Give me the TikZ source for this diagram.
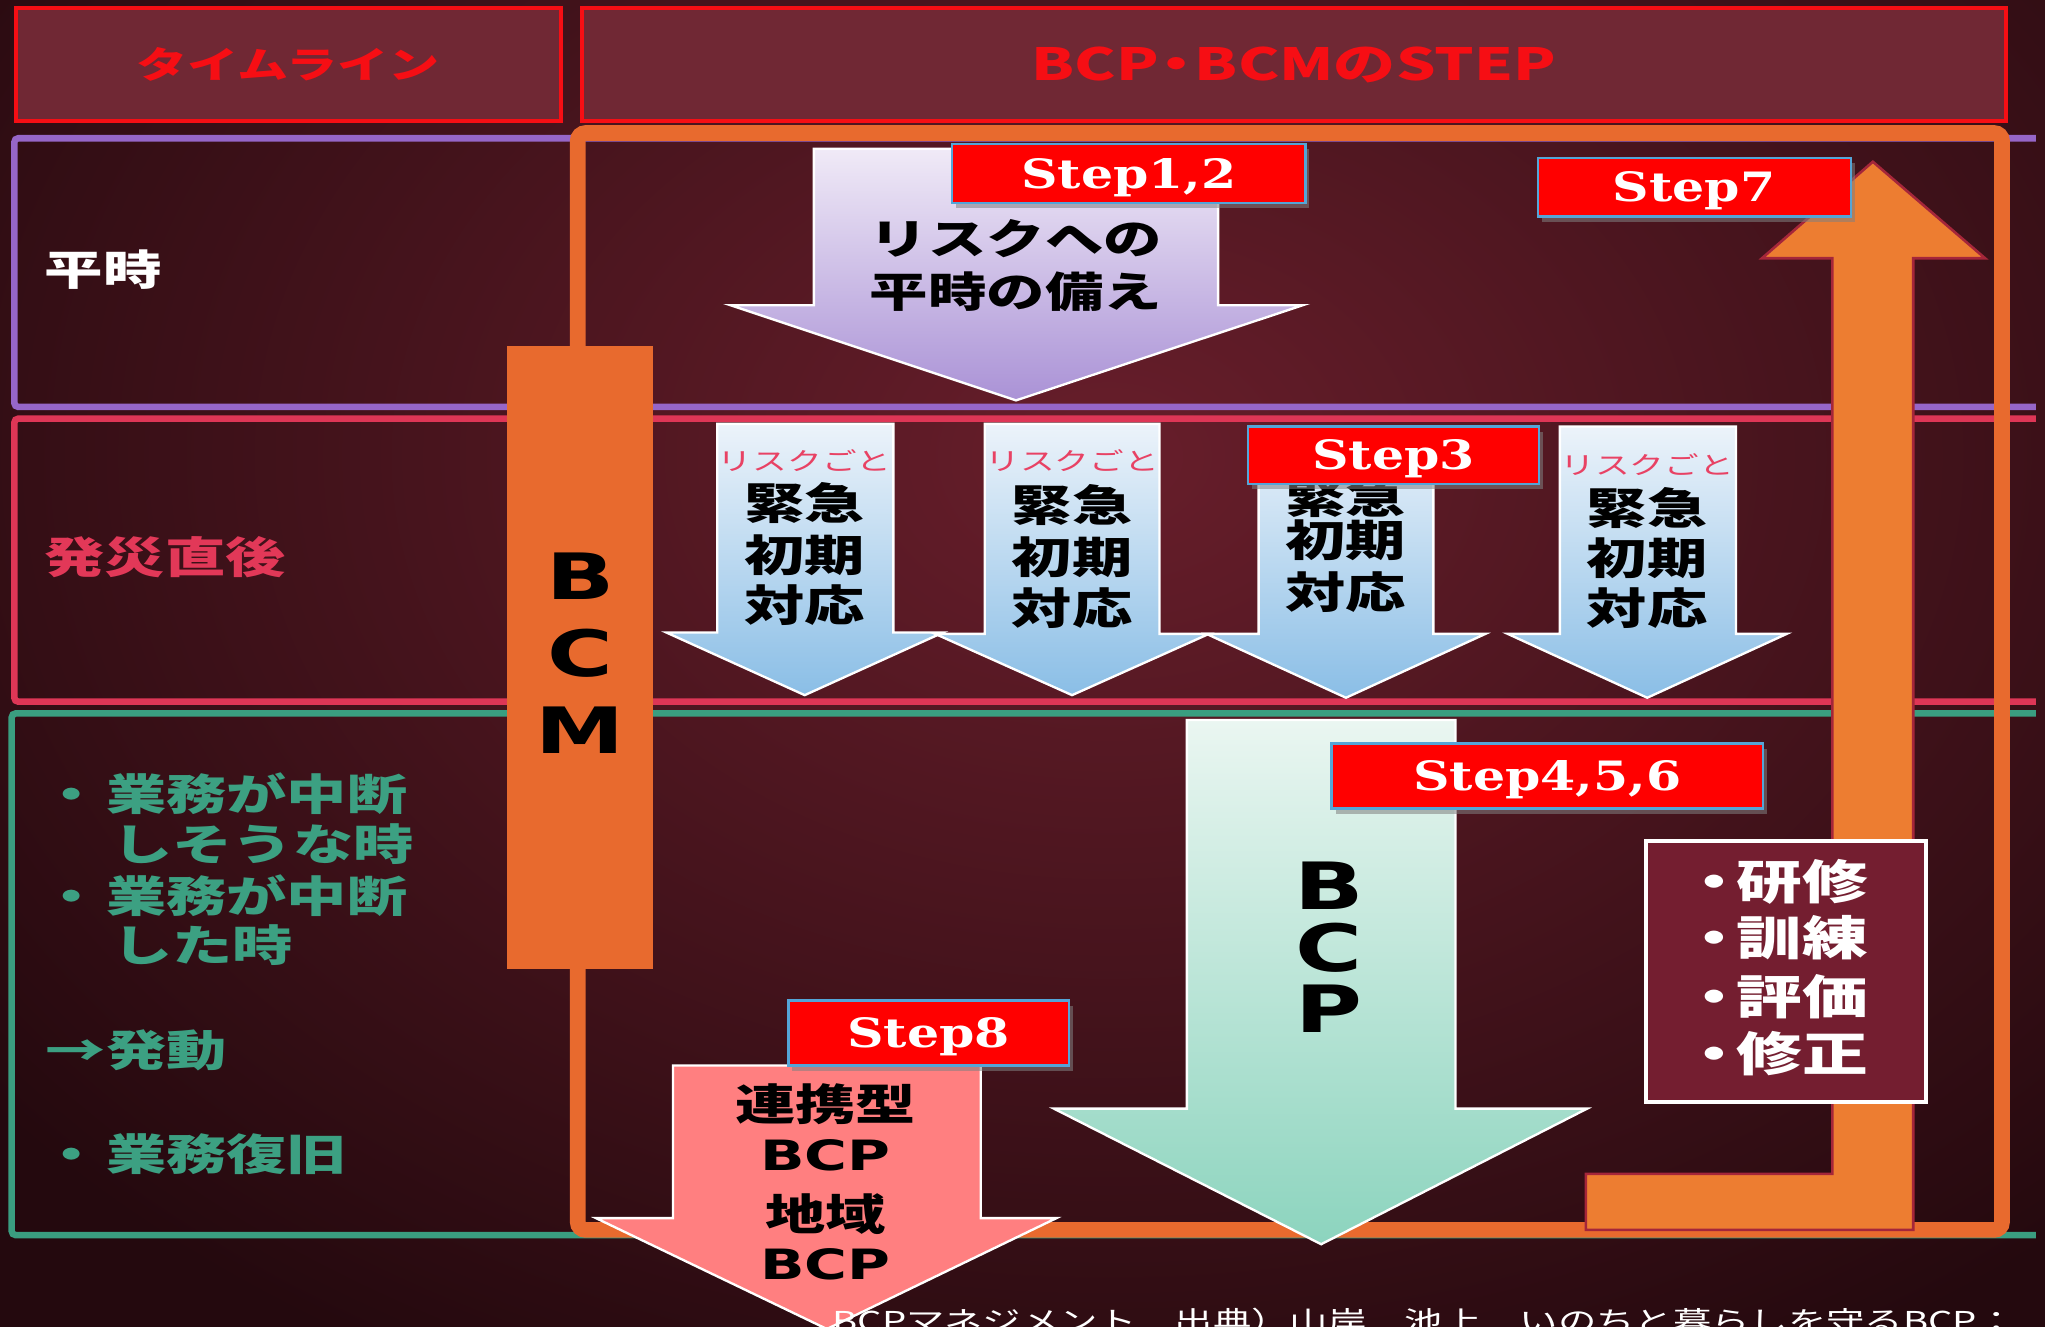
\documentclass[tikz,border=0pt]{standalone}
\usepackage{fontspec}
\usetikzlibrary{shadows}
\newfontfamily\jp[FakeStretch=1.4]{Noto Sans CJK JP}
\newfontfamily\latb[FakeStretch=1.4]{DejaVu Sans}
\newfontfamily\stepf[FakeStretch=1.25]{DejaVu Serif}
\newcommand\fsz[1]{\fontsize{#1}{#1}\selectfont}
\definecolor{bgin}{RGB}{104,30,43}
\definecolor{bgout}{RGB}{36,9,14}
\definecolor{hdrfill}{RGB}{112,40,52}
\definecolor{hdrred}{RGB}{246,14,20}
\definecolor{rowpurple}{RGB}{150,102,200}
\definecolor{rowred}{RGB}{222,54,86}
\definecolor{rowgreen}{RGB}{58,158,128}
\definecolor{frameorange}{RGB}{232,106,46}
\definecolor{lorange}{RGB}{237,125,49}
\definecolor{lborder}{RGB}{165,38,58}
\definecolor{steplbl}{RGB}{255,0,0}
\definecolor{stepedge}{RGB}{84,165,215}
\definecolor{lavtop}{RGB}{240,234,247}
\definecolor{lavbot}{RGB}{170,146,214}
\definecolor{bluetop}{RGB}{236,243,250}
\definecolor{bluebot}{RGB}{138,190,230}
\definecolor{minttop}{RGB}{234,246,241}
\definecolor{mintbot}{RGB}{140,212,190}
\definecolor{pinkfill}{RGB}{255,127,128}
\definecolor{trainfill}{RGB}{116,30,48}
\definecolor{riskpink}{RGB}{232,66,100}
\definecolor{labred}{RGB}{226,56,88}
\definecolor{labgreen}{RGB}{60,160,130}
\begin{document}
\begin{tikzpicture}[x=1pt,y=-1pt,
  txt/.style={inner sep=0pt, anchor=base},
  txtw/.style={inner sep=0pt, anchor=base west},
  hdrbox/.style={draw=hdrred, line width=3pt, fill=hdrfill, inner sep=0pt, text=hdrred},
  rowline/.style={line width=5pt, rounded corners=3pt},
  steplabel/.style={draw=stepedge, line width=1.8pt, fill=steplbl, text=white,
    font=\stepf\bfseries\fsz{31}, text height=22.6pt, text depth=0pt, inner sep=0pt,
    drop shadow={opacity=0.55, shadow xshift=3pt, shadow yshift=-4pt}},
  arrowshape/.style={draw=white, line width=1.8pt, line join=miter},
  jpbig/.style={font=\jp\bfseries\fsz{33}},
  riskfont/.style={font=\jp\fsz{19}, text=riskpink},
  greentxt/.style={txtw, font=\jp\bfseries\fsz{33}, text=labgreen},
  bigletter/.style={txt, font=\latb\bfseries\fsz{49}},
]
\useasboundingbox (0,0) rectangle (1568,1017);
\begin{scope}
\clip (0,0) rectangle (1568,1017);
% background
\shade[inner color=bgin, outer color=bgout] (-250,-450) rectangle (1950,1150);

% header boxes
\node[hdrbox, minimum width=418pt, minimum height=87pt, font=\jp\bfseries\fsz{28}] (hdrtl) at (221,49.5) {タイムライン};
\node[hdrbox, minimum width=1092pt, minimum height=87pt, font=\jp\bfseries\fsz{34}] (hdrstep) at (992,49.5) {BCP\kern-10pt・\kern-10pt BCMのSTEP};

% row frames
\draw[rowline, rowpurple] (1561,106) -- (11,106) -- (11,312) -- (1561,312);
\draw[rowline, rowred] (1561,321) -- (11,321) -- (11,538) -- (1561,538);
\draw[rowline, rowgreen] (1561,547) -- (9,547) -- (9,947) -- (1561,947);

% orange frame
\draw[frameorange, line width=12pt, rounded corners=6pt] (443,102) rectangle (1535,943);

% BCM bar
\node[fill=frameorange, minimum width=112pt, minimum height=478pt, inner sep=0pt] (bcmbar) at (445,504) {};
\node[bigletter] (bcmB) at (445,460) {B};
\node[bigletter] (bcmC) at (445,519) {C};
\node[bigletter] (bcmM) at (445,578) {M};

% Step7 L-shaped arrow
\draw[fill=lorange, draw=lborder, line width=2pt, line join=miter]
  (1216,900) -- (1405,900) -- (1405,198) -- (1351,198) -- (1436,124) -- (1522,198)
  -- (1467,198) -- (1467,943) -- (1216,943) -- cycle;

% training box
\node[draw=white, line width=3pt, fill=trainfill, minimum width=215pt, minimum height=200pt, inner sep=0pt] (train) at (1369.5,745) {};
\node[txtw, font=\jp\bfseries\fsz{36}, text=white] (tr1) at (1289,689.7) {・\kern-8pt 研修};
\node[txtw, font=\jp\bfseries\fsz{36}, text=white] (tr2) at (1289,732.7) {・\kern-8pt 訓練};
\node[txtw, font=\jp\bfseries\fsz{36}, text=white] (tr3) at (1289,777.7) {・\kern-8pt 評価};
\node[txtw, font=\jp\bfseries\fsz{36}, text=white] (tr4) at (1289,821.7) {・\kern-8pt 修正};

% lavender arrow
\shadedraw[arrowshape, top color=lavtop, bottom color=lavbot]
  (624,114) -- (934,114) -- (934,234) -- (999,234) -- (779,307) -- (560,234) -- (624,234) -- cycle;
\node[txt, font=\jp\bfseries\fsz{32}] (lav1) at (779,195) {リスクへの};
\node[txt, font=\jp\bfseries\fsz{32}] (lav2) at (779,236) {平時の備え};

% blue arrows
\shadedraw[arrowshape, top color=bluetop, bottom color=bluebot]
  (550,325) -- (685,325) -- (685,485) -- (723,485) -- (617,533) -- (511,485) -- (550,485) -- cycle;
\shadedraw[arrowshape, top color=bluetop, bottom color=bluebot]
  (755,325) -- (889,325) -- (889,486) -- (927,486) -- (822,533) -- (717,486) -- (755,486) -- cycle;
\shadedraw[arrowshape, top color=bluetop, bottom color=bluebot]
  (965,327) -- (1099,327) -- (1099,486) -- (1139,486) -- (1032,535) -- (925,486) -- (965,486) -- cycle;
\shadedraw[arrowshape, top color=bluetop, bottom color=bluebot]
  (1196,327) -- (1331,327) -- (1331,486) -- (1370,486) -- (1263,535) -- (1156,486) -- (1196,486) -- cycle;

\node[txt, riskfont] (ra0) at (617,361) {リスクごと};
\node[txt, jpbig] (ra1) at (617,398.5) {緊急};
\node[txt, jpbig] (ra2) at (617,438.5) {初期};
\node[txt, jpbig] (ra3) at (617,476.5) {対応};
\node[txt, riskfont] (rb0) at (822,361) {リスクごと};
\node[txt, jpbig] (rb1) at (822,399.5) {緊急};
\node[txt, jpbig] (rb2) at (822,439.5) {初期};
\node[txt, jpbig] (rb3) at (822,478.5) {対応};
\node[txt, jpbig] (rc1) at (1032,393.5) {緊急};
\node[txt, jpbig] (rc2) at (1032,426.5) {初期};
\node[txt, jpbig] (rc3) at (1032,466.5) {対応};
\node[txt, riskfont] (rd0) at (1263,364) {リスクごと};
\node[txt, jpbig] (rd1) at (1263,402.5) {緊急};
\node[txt, jpbig] (rd2) at (1263,440.5) {初期};
\node[txt, jpbig] (rd3) at (1263,478.5) {対応};

% mint BCP arrow
\shadedraw[arrowshape, top color=minttop, bottom color=mintbot]
  (910,552) -- (1116,552) -- (1116,850) -- (1217,850) -- (1013,954) -- (808,850) -- (910,850) -- cycle;
\node[bigletter, font=\latb\bfseries\fsz{50}] (bcpB) at (1019,697) {B};
\node[bigletter, font=\latb\bfseries\fsz{50}] (bcpC) at (1019,745) {C};
\node[bigletter, font=\latb\bfseries\fsz{50}] (bcpP) at (1019,792) {P};

% pink arrow
\draw[arrowshape, fill=pinkfill]
  (516,817) -- (752,817) -- (752,934) -- (810,934) -- (634,1019) -- (457,934) -- (516,934) -- cycle;
\node[txt, jpbig] (pk1) at (633,859.5) {連携型};
\node[txt, font=\latb\bfseries\fsz{32}] (pk2) at (633,897.7) {BCP};
\node[txt, jpbig] (pk3) at (633,943.5) {地域};
\node[txt, font=\latb\bfseries\fsz{32}] (pk4) at (633,980.7) {BCP};

% left labels
\node[txtw, font=\jp\bfseries\fsz{32}, text=white] (heiji) at (34,219) {平時};
\node[txtw, font=\jp\bfseries\fsz{33}, text=labred] (hassai) at (34,439.5) {発災直後};
\node[greentxt] (g1) at (32,621.5) {・\kern3pt 業務が中断};
\node[greentxt] (g2) at (86,659.5) {しそうな時};
\node[greentxt] (g3) at (32,699.5) {・\kern3pt 業務が中断};
\node[greentxt] (g4) at (86,737.5) {した時};
\node[greentxt] (g5) at (35,817.5) {→発動};
\node[greentxt] (g6) at (32,897.5) {・\kern3pt 業務復旧};

% step labels
\node[steplabel, minimum width=271pt, minimum height=45.6pt] (s12) at (865.5,133) {Step1,2};
\node[steplabel, minimum width=240pt, minimum height=45pt] (s7) at (1299,143.5) {Step7};
\node[steplabel, minimum width=223pt, minimum height=44pt] (s3) at (1068.5,349) {Step3};
\node[steplabel, minimum width=331pt, minimum height=50pt] (s456) at (1186.5,595) {Step4,5,6};
\node[steplabel, minimum width=215pt, minimum height=50pt] (s8) at (712,792) {Step8};

% bottom source line (cut off by the page edge, as in the original)
\node[txtw, font=\jp\fsz{21}, text=white] (source) at (638,1021) {BCPマネジメント　出典）山岸　池上　いのちと暮らしを守るBCP：};
\end{scope}
\end{tikzpicture}
\end{document}
